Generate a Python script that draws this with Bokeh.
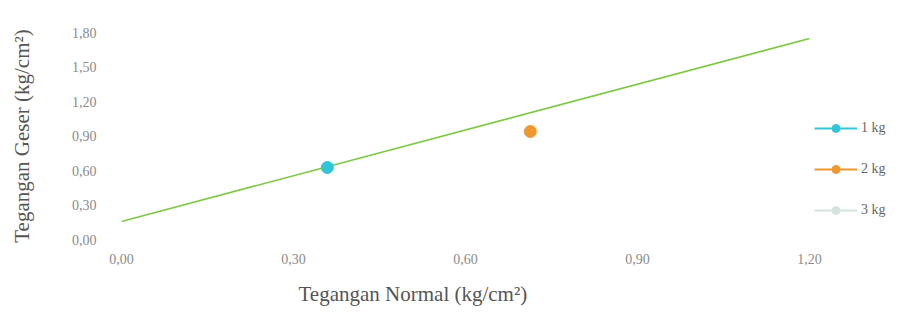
from bokeh.plotting import figure
from bokeh.models import Range1d, FixedTicker, Legend, LegendItem, Title
from bokeh.embed import file_html
from bokeh.resources import INLINE

# Data
series_names = ["1 kg", "2 kg", "3 kg"]
s1_x = [0.359]
s1_y = [0.626]
s2_x = [0.713]
s2_y = [0.939]
s3_x = [float("nan")]
s3_y = [float("nan")]
trend_x = [0.0, 1.20]
trend_y = [0.157, 1.748]
x_ticks = [0.0, 0.3, 0.6, 0.9, 1.2]
x_tick_labels = ["0,00", "0,30", "0,60", "0,90", "1,20"]
y_ticks = [0.0, 0.3, 0.6, 0.9, 1.2, 1.5, 1.8]
y_tick_labels = ["0,00", "0,30", "0,60", "0,90", "1,20", "1,50", "1,80"]
x_title = "Tegangan Normal (kg/cm²)"
y_title = "Tegangan Geser (kg/cm²)"

FONT = "Liberation Serif"

p = figure(frame_width=688, frame_height=207, output_backend="svg", toolbar_location=None,
           x_range=Range1d(0, 1.2), y_range=Range1d(0, 1.8),
           min_border_left=121, min_border_right=0, min_border_top=32, min_border_bottom=61)
p.outline_line_color = None
p.grid.visible = False
p.background_fill_color = "white"

p.line(trend_x, trend_y, line_color="#7cc843", line_width=1.6)

colors = ["#30c6d8", "#f0982c", "#d3e3dd"]
xs = [s1_x, s2_x, s3_x]
ys = [s1_y, s2_y, s3_y]
items = []
for name, c, x, y in zip(series_names, colors, xs, ys):
    lr = p.line(x, y, line_color=c, line_width=2)
    sr = p.scatter(x, y, size=12, fill_color=c, line_color=c, marker="circle")
    items.append(LegendItem(label=name, renderers=[lr, sr]))

for ax, ticks, labels in ((p.xaxis[0], x_ticks, x_tick_labels), (p.yaxis[0], y_ticks, y_tick_labels)):
    ax.ticker = FixedTicker(ticks=ticks)
    ax.major_label_overrides = {t: l for t, l in zip(ticks, labels)}
    ax.axis_line_color = None
    ax.major_tick_line_color = None
    ax.minor_tick_line_color = None
    ax.major_label_text_font = FONT
    ax.major_label_text_font_size = "14px"
    ax.major_label_text_color = "#8a8a8a"

p.xaxis.major_label_standoff = 8
p.yaxis.major_label_standoff = 19

p.yaxis.axis_label = y_title
p.yaxis.axis_label_standoff = 35
p.yaxis.axis_label_text_font = FONT
p.yaxis.axis_label_text_font_size = "21px"
p.yaxis.axis_label_text_font_style = "normal"
p.yaxis.axis_label_text_color = "#555555"

# x title (off-centre, as in the reference)
p.add_layout(Title(text=x_title, align="left", offset=177, standoff=26,
                   text_font=FONT, text_font_size="21px", text_font_style="normal",
                   text_color="#555555"), "below")

legend = Legend(items=items, location=(5, 19), orientation="vertical",
                margin=0, padding=10, spacing=21, glyph_width=43, glyph_height=20,
                label_standoff=4, border_line_color=None, background_fill_alpha=0,
                label_text_font=FONT, label_text_font_size="14px", label_text_color="#666666")
p.add_layout(legend, "right")

open("out.html", "w").write(file_html(p, INLINE))
